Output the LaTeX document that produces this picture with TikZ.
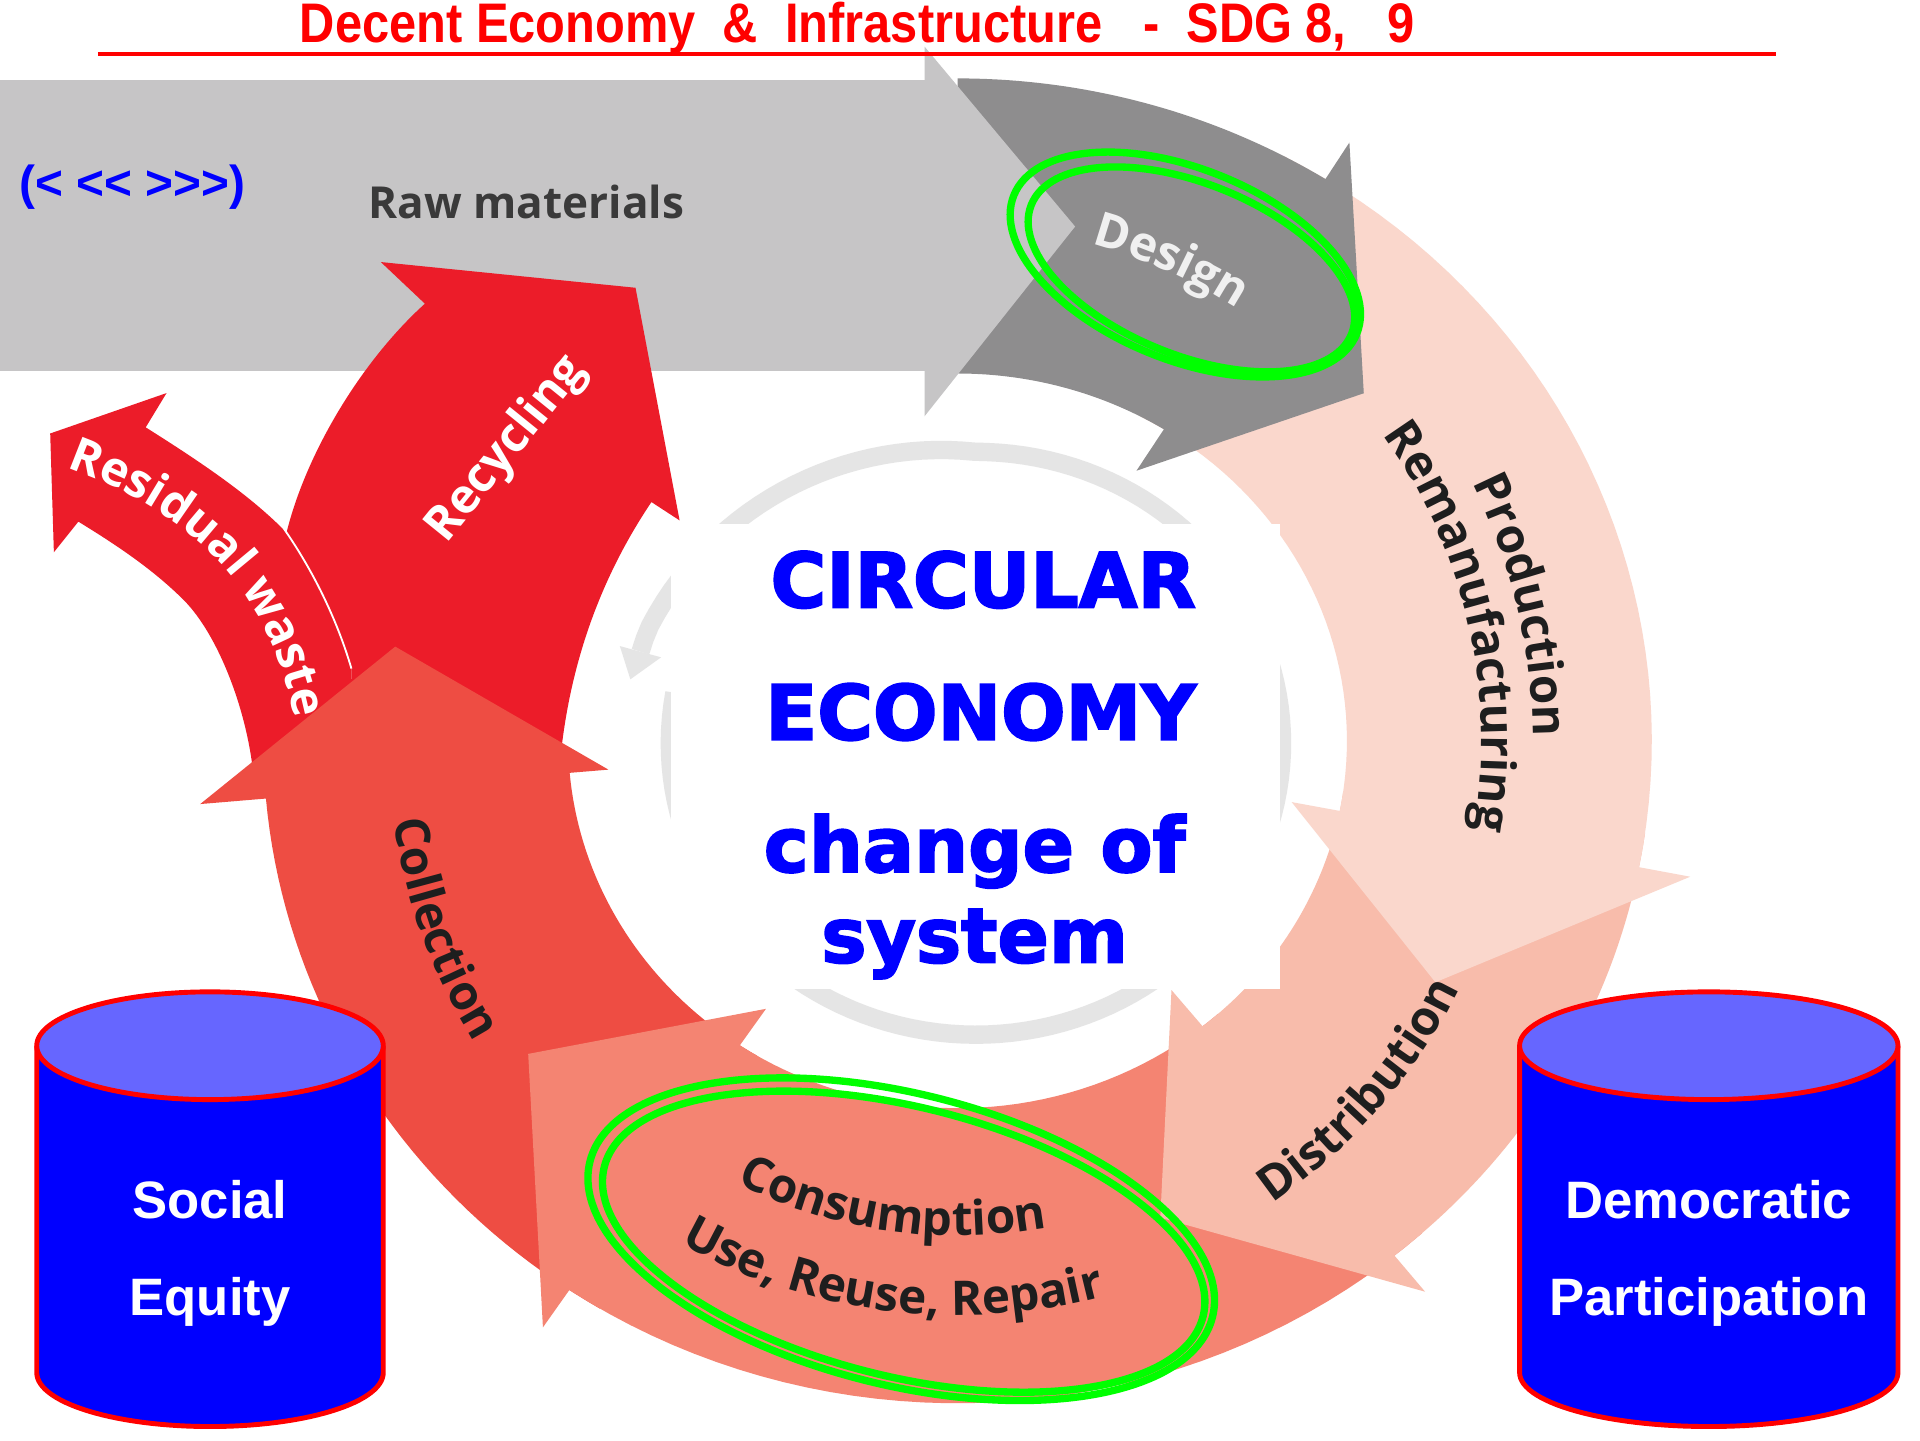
\documentclass[tikz,border=0pt]{standalone}
\usepackage{graphicx}
\usepackage{fontspec}
\setmainfont{Liberation Sans}
\newfontfamily\labelfont{Open Sans}
\newfontfamily\heavyfont{DejaVu Sans Bold}[FakeBold=2.5]
\newfontfamily\navfont{Liberation Sans}[Ligatures=TeXOff]
\usetikzlibrary{decorations.text}

\definecolor{rawgrey}{HTML}{C6C5C6}
\definecolor{designgrey}{HTML}{8E8D8E}
\definecolor{prodpink}{HTML}{FAD7CC}
\definecolor{distpink}{HTML}{F8BCAB}
\definecolor{conssalmon}{HTML}{F48472}
\definecolor{collred}{HTML}{EE4D43}
\definecolor{recyred}{HTML}{EC1C29}
\definecolor{ringgrey}{HTML}{E5E5E5}
\definecolor{labelink}{HTML}{1E1E1E}
\definecolor{rawink}{HTML}{3A3A3A}
\definecolor{drumtop}{HTML}{6666FF}

\def\rcx{782}\def\rcy{605}
\def\rox{567}\def\roy{541}
\def\rix{318}\def\riy{300}
\def\rmx{442}\def\rmy{420}

\tikzset{
  centretext/.style={font=\heavyfont\fontsize{62}{62}\selectfont, text=blue, inner sep=0, anchor=base},
  pillartext/.style={font=\bfseries\fontsize{43}{43}\selectfont, text=white, inner sep=0, anchor=base},
  redlabel/.style={font=\labelfont\bfseries\fontsize{39}{39}\selectfont, text=white, inner sep=0},
  ovalline/.style={draw=green, line width=6pt},
  drumline/.style={draw=red, line width=4pt},
}

\newcommand{\ringarrow}[7]{%
  \fill[#1] plot[domain=#2:#3, samples=40] ({\rcx+\rox*cos(\x)},{\rcy+\roy*sin(\x)})
    -- ({\rcx+#6*\rox*cos(#3)},{\rcy+#6*\roy*sin(#3)})
    -- ({\rcx+#5*\rmx*cos(#4)},{\rcy+#5*\rmy*sin(#4)})
    -- ({\rcx+#7*\rix*cos(#3)},{\rcy+#7*\riy*sin(#3)})
    -- plot[domain=#3:#2, samples=40] ({\rcx+\rix*cos(\x)},{\rcy+\riy*sin(\x)})
    -- cycle;}

\newcommand{\ringtext}[5]{%
  \path[decorate, decoration={text along path, text align=center, text color=#4,
      text={|\labelfont\bfseries\fontsize{39}{39}\selectfont|#5}}]
    plot[domain=#2:#3, samples=60] ({\rcx+#1*cos(\x)},{\rcy+#1*sin(\x)});}

\newcommand{\drum}[2]{%
  \fill[blue] ({#1-#2},854) -- plot[domain=180:0, samples=60] ({#1+#2*cos(\x)},{1121+44*sin(\x)}) -- ({#1+#2},854) -- cycle;
  \draw[drumline] ({#1-#2},854) -- plot[domain=180:0, samples=60] ({#1+#2*cos(\x)},{1121+44*sin(\x)}) -- ({#1+#2},854);
  \filldraw[drumline, fill=drumtop] (#1,854) ellipse [x radius=#2, y radius=44];}

\begin{document}
\begin{tikzpicture}[x=1pt, y=-1pt]
  \useasboundingbox (0,0) rectangle (1568,1176);
  \fill[white] (0,0) rectangle (1568,1176);

  \fill[rawgrey] (0,65) rectangle (755,303);

  \fill[recyred] (44,451) -- (41,354) -- (136,321) -- (119,349)
    .. controls (165,378) and (205,405) .. (234,435)
    .. controls (255,465) and (275,505) .. (287,546)
    -- (290,645) -- (208,648)
    .. controls (206,590) and (180,520) .. (150,490)
    .. controls (125,465) and (95,445) .. (64,426) -- cycle;
  \fill[recyred] (311,214) -- (519,235) -- (555,425) -- (532,410)
    .. controls (495,465) and (462,540) .. (456,640)
    -- (290,645) -- (287,546)
    .. controls (275,505) and (255,465) .. (234,435)
    .. controls (250,370) and (295,295) .. (347,248) -- cycle;
  \draw[white, line width=1.5pt] (232,432) .. controls (255,465) and (275,505) .. (287,546);

  \ringarrow{collred}{121}{175}{190}{1.055}{1.095}{0.90}
  \ringarrow{conssalmon}{48}{124}{142.5}{1.0}{1.068}{0.88}
  \ringarrow{distpink}{8}{51}{68}{1.0}{1.07}{0.873}
  \ringarrow{prodpink}{-62}{11}{28}{1.0}{1.075}{0.874}
  \ringarrow{designgrey}{-90}{-58}{-42}{1.01}{1.065}{0.867}

  \fill[rawgrey] (755,38) -- (878,185) -- (755,340) -- cycle;

  \draw[ringgrey, line width=15pt] plot[domain=550:196, samples=150]
    ({797+250*(1+0.14*min(1,max(0,(270-\x)/70)))*cos(\x)},{607+238*(1+0.14*min(1,max(0,(270-\x)/70)))*sin(\x)});
  \fill[ringgrey] ({797+250*1.21*cos(196)},{607+238*1.21*sin(196)})
    -- ({797+250*1.15*cos(191)},{607+238*1.15*sin(191)})
    -- ({797+250*1.07*cos(196)},{607+238*1.07*sin(196)}) -- cycle;

  \fill[white] (548,428) rectangle (1045,808);
  \node[centretext] (circular) at (803,496) {CIRCULAR};
  \node[centretext] (economy) at (801,604) {ECONOMY};
  \node[centretext] (change) at (796,712) {change of};
  \node[centretext] (system) at (796,786) {system};

  \node[font=\labelfont\bfseries\fontsize{36}{36}\selectfont, text=rawink, inner sep=0] (raw) at (430,165) {Raw materials};
  \node[redlabel, rotate=51] (recycling) at (414,367) {Recycling};
  \path[decorate, decoration={text along path, text align=center, text color=white,
      text={|\labelfont\bfseries\fontsize{39}{39}\selectfont|Residual waste}}]
    (50,380) .. controls (150,415) and (220,475) .. (242,592);

  \ringtext{420}{-95}{-37}{white!94!black}{Design}
  \ringtext{470}{-45}{18}{labelink}{Production}
  \ringtext{428}{-50}{24}{labelink}{Remanufacturing}
  \ringtext{457}{72}{10}{labelink}{Distribution}
  \ringtext{404}{130}{66}{labelink}{Consumption}
  \ringtext{469}{135}{59}{labelink}{Use, Reuse, Repair}
  \ringtext{465}{190}{130}{labelink}{Collection}

  \begin{scope}[shift={(968,216)}, rotate=-22]
    \draw[ovalline] (0,0) ellipse [x radius=151, y radius=78];
  \end{scope}
  \begin{scope}[shift={(973,220)}, rotate=-22]
    \draw[ovalline] (0,0) ellipse [x radius=141, y radius=70];
  \end{scope}
  \begin{scope}[shift={(736,1012)}, rotate=-14]
    \draw[ovalline] (0,0) ellipse [x radius=262, y radius=119];
  \end{scope}
  \begin{scope}[shift={(738,1014)}, rotate=-14]
    \draw[ovalline] (0,0) ellipse [x radius=252, y radius=110];
  \end{scope}

  \drum{171.5}{141.5}
  \drum{1395.5}{154.5}
  \node[pillartext] (social) at (171.5,995) {Social};
  \node[pillartext] (equity) at (171.5,1074) {Equity};
  \node[pillartext] (democratic) at (1395.5,995) {Democratic};
  \node[pillartext] (participation) at (1395.5,1074) {Participation};

  \node[anchor=base, text=red, inner sep=0] (title) at (700,35)
    {\resizebox{910pt}{33pt}{\bfseries Decent Economy~ \&~ Infrastructure~~ -~ SDG 8,~~ 9}};
  \draw[red, line width=3pt] (80,44) -- (1450,44);
  \node[text=blue, font=\navfont\bfseries\fontsize{39}{39}\selectfont, inner sep=0] (nav) at (108,153) {(< << >>>)};
\end{tikzpicture}
\end{document}
